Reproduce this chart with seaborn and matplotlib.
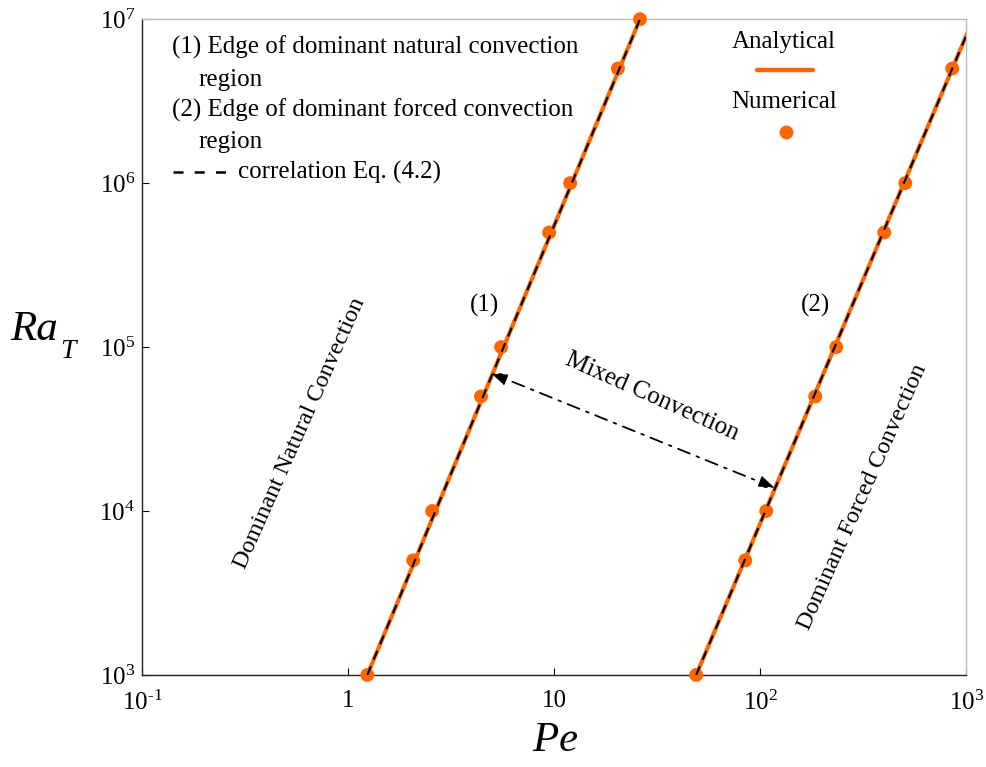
import numpy as np
import pandas as pd
import matplotlib
matplotlib.use("Agg")
import matplotlib.pyplot as plt
import seaborn as sns

# Numerical results: edge of dominant natural convection region (1)
ra_num_1 = [1e3, 5e3, 1e4, 5e4, 1e5, 5e5, 1e6, 5e6, 1e7]
pe_num_1 = [1.24, 2.07, 2.56, 4.42, 5.53, 9.46, 11.96, 20.4, 26.1]
# Numerical results: edge of dominant forced convection region (2)
ra_num_2 = [1e3, 5e3, 1e4, 5e4, 1e5, 5e5, 1e6, 5e6]
pe_num_2 = [48.9, 84.6, 107, 185, 234, 400, 506, 855]

# Analytical / correlation boundaries (straight lines in log-log space)
ra_line_1 = [1e3, 1e7]
pe_line_1 = [1.24, 26.1]
ra_line_2 = [1e3, 1e7]
pe_line_2 = [48.9, 1080]

x_ticks = [0.1, 1, 10, 100, 1000]
x_tick_labels = [r"$10^{\mathrm{\text{-}}1}$", "1", "10", r"$10^{2}$", r"$10^{3}$"]
y_ticks = [1e3, 1e4, 1e5, 1e6, 1e7]
y_tick_labels = [r"$10^{3}$", r"$10^{4}$", r"$10^{5}$", r"$10^{6}$", r"$10^{7}$"]

ORANGE = "#ff6600"

sns.set_theme(style="white")
plt.rcParams["font.family"] = ["Liberation Serif", "DejaVu Serif"]
plt.rcParams["mathtext.fontset"] = "custom"
plt.rcParams["mathtext.rm"] = "Liberation Serif"
plt.rcParams["mathtext.it"] = "Liberation Serif:italic"
plt.rcParams["mathtext.default"] = "regular"
plt.rcParams["text.color"] = "black"
plt.rcParams["axes.labelcolor"] = "black"

lines = pd.DataFrame({
    "Pe": pe_line_1 + pe_line_2,
    "Ra": ra_line_1 + ra_line_2,
    "edge": ["(1)"] * len(pe_line_1) + ["(2)"] * len(pe_line_2),
})
points = pd.DataFrame({
    "Pe": pe_num_1 + pe_num_2,
    "Ra": ra_num_1 + ra_num_2,
    "edge": ["(1)"] * len(pe_num_1) + ["(2)"] * len(pe_num_2),
})

fig = plt.figure(figsize=(9.86, 7.67), dpi=100)
ax = fig.add_axes([0.144, 0.12, 0.836, 0.855])
ax.set_xscale("log")
ax.set_yscale("log")

# Analytical solution
sns.lineplot(data=lines, x="Pe", y="Ra", hue="edge", palette=[ORANGE, ORANGE],
             estimator=None, sort=False, lw=3.0, legend=False, ax=ax, zorder=2)
# Numerical results
sns.scatterplot(data=points, x="Pe", y="Ra", color=ORANGE, s=100,
                edgecolor="none", legend=False, ax=ax, zorder=3, clip_on=False)
# Correlation Eq. (4.2)
sns.lineplot(data=lines, x="Pe", y="Ra", hue="edge", palette=["black", "black"],
             estimator=None, sort=False, lw=1.5, legend=False, ax=ax, zorder=4,
             dashes=False)
for ln in ax.lines[-2:]:
    ln.set_dashes((4.5, 3.5))

ax.set_xlim(0.1, 1000)
ax.set_ylim(1e3, 1e7)
ax.set_xticks(x_ticks)
ax.set_xticklabels(x_tick_labels)
ax.set_yticks(y_ticks)
ax.set_yticklabels(y_tick_labels)
ax.minorticks_off()
ax.tick_params(axis="both", which="major", direction="in", length=5, width=0.8,
               labelsize=18, colors="black")
ax.tick_params(axis="x", pad=11, bottom=True)
ax.tick_params(axis="y", pad=5, left=True)

for side in ("left", "bottom"):
    ax.spines[side].set_color("#222222")
    ax.spines[side].set_linewidth(1.0)
for side in ("top", "right"):
    ax.spines[side].set_color("#bbbbbb")
    ax.spines[side].set_linewidth(1.0)

ax.set_xlabel(r"$\mathit{Pe}$", fontsize=31, va="center")
ax.xaxis.set_label_coords(0.501, -0.1)
ax.set_ylabel("")
# Ra with subscript T, set as two pieces for a lower, smaller subscript
ax.text(-0.16, 0.526, "Ra", transform=ax.transAxes, fontsize=31, fontstyle="italic",
        ha="left", va="center")
ax.text(-0.0995, 0.494, "T", transform=ax.transAxes, fontsize=20, fontstyle="italic",
        ha="left", va="center")

# Key text in the upper left
fs = 18
ax.text(0.037, 0.957, "(1) Edge of dominant natural convection", transform=ax.transAxes,
        fontsize=fs, va="center", ha="left")
ax.text(0.068, 0.907, "region", transform=ax.transAxes, fontsize=fs, va="center", ha="left")
ax.text(0.037, 0.861, "(2) Edge of dominant forced convection", transform=ax.transAxes,
        fontsize=fs, va="center", ha="left")
ax.text(0.068, 0.8125, "region", transform=ax.transAxes, fontsize=fs, va="center", ha="left")
ax.plot([0.038, 0.107], [0.767, 0.767], transform=ax.transAxes, color="black",
        lw=1.8, dashes=(4, 4.5))
ax.text(0.1165, 0.767, "correlation Eq. (4.2)", transform=ax.transAxes, fontsize=fs,
        va="center", ha="left")

# Key for analytical / numerical
ax.text(0.779, 0.965, "Analytical", transform=ax.transAxes, fontsize=fs, ha="center", va="center")
ax.plot([0.746, 0.814], [0.922, 0.922], transform=ax.transAxes, color=ORANGE, lw=3.2)
ax.text(0.779, 0.873, "Numerical", transform=ax.transAxes, fontsize=fs, ha="center", va="center")
ax.plot([0.7815], [0.828], transform=ax.transAxes, marker="o", ms=10, color=ORANGE, mec="none")

# Region annotations
ax.text(0.415, 0.564, "(1)", transform=ax.transAxes, fontsize=fs, ha="center", va="center")
ax.text(0.817, 0.564, "(2)", transform=ax.transAxes, fontsize=fs, ha="center", va="center")
ax.text(0.192, 0.369, "Dominant Natural Convection", transform=ax.transAxes, fontsize=17.5,
        ha="center", va="center", rotation=66, rotation_mode="anchor")
ax.text(0.874, 0.271, "Dominant Forced Convection", transform=ax.transAxes, fontsize=17.5,
        ha="center", va="center", rotation=66, rotation_mode="anchor")
ax.text(0.619, 0.424, "Mixed Convection", transform=ax.transAxes, fontsize=fs,
        ha="center", va="center", rotation=-24, rotation_mode="anchor")

ax.annotate("", xy=(4.94, 6.94e4), xytext=(118, 1.38e4),
            arrowprops=dict(arrowstyle="<|-|>,head_length=0.8,head_width=0.3",
                            color="black", lw=1.3, linestyle=(0, (7, 4, 1.5, 4)),
                            shrinkA=0, shrinkB=0))

fig.savefig("out.png", dpi=100)
